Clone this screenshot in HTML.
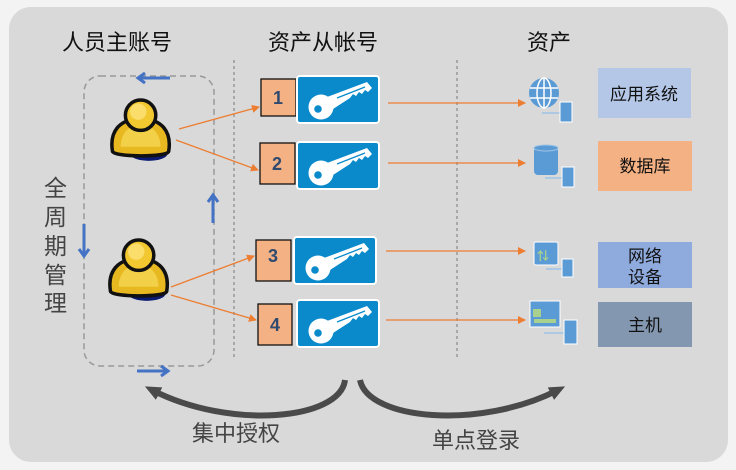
<!DOCTYPE html>
<html><head><meta charset="utf-8"><style>
html,body{margin:0;padding:0;background:#f3f3f3;}
svg{display:block;font-family:"Liberation Sans","Noto Sans CJK SC",sans-serif;}
</style></head><body>
<svg width="736" height="470" viewBox="0 0 736 470" xmlns="http://www.w3.org/2000/svg">
<defs>
<g id="key">
<rect x="0" y="0" width="82" height="47" rx="3" fill="#0a8acb" stroke="#fff" stroke-width="2"/>
<circle cx="24" cy="31" r="12.5" fill="#fff"/>
<circle cx="21" cy="33" r="3.8" fill="#0a8acb"/>
<path d="M30 21 L70 6 L75 12 L71 16 L68 14 L65 18 L62 16 L59 20 L56 18 L53 22 L36 33 Z" fill="#fff"/>
<path d="M40 22 L68 11" stroke="#0a8acb" stroke-width="1.3"/>
</g>
<g id="person">
<ellipse cx="34" cy="46" rx="16" ry="6" fill="#0a1a70"/>
<path d="M3 44 C0 26 10 16 27 16 C44 16 54 26 51 44 C50 49 5 49 3 44 Z" fill="#e8b820" stroke="#111" stroke-width="3"/>
<path d="M10 40 C10 28 18 21 27 21 C36 21 44 28 44 40" fill="#f7dc5a" opacity="0.7"/>
<circle cx="27" cy="13" r="13" fill="#f2c830" stroke="#111" stroke-width="3"/>
<circle cx="25" cy="10" r="7" fill="#fbe27a" opacity="0.8"/>
</g>
<marker id="oa" markerWidth="8" markerHeight="8" refX="7" refY="4" orient="auto" markerUnits="userSpaceOnUse"><path d="M0 0 L8 4 L0 8 Z" fill="#ed7d31"/></marker>
<marker id="ga" markerWidth="16" markerHeight="14" refX="8" refY="7" orient="auto" markerUnits="userSpaceOnUse"><path d="M0 0 L16 7 L0 14 Z" fill="#4a4a4a"/></marker>
</defs>
<rect x="9" y="7" width="719" height="455" rx="22" fill="#d9d9d9"/>
<g font-size="22" fill="#111">
<text x="62" y="50">人员主账号</text>
<text x="268" y="50">资产从帐号</text>
<text x="527" y="50">资产</text>
</g>
<g font-size="23" fill="#444">
<text x="44" y="196">全</text><text x="44" y="225">周</text><text x="44" y="254">期</text><text x="44" y="283">管</text><text x="44" y="311">理</text>
</g>
<line x1="234" y1="60" x2="234" y2="358" stroke="#777" stroke-dasharray="3,3"/>
<line x1="457" y1="60" x2="457" y2="358" stroke="#777" stroke-dasharray="3,3"/>
<rect x="84" y="76" width="130" height="290" rx="16" fill="none" stroke="#999" stroke-width="1.5" stroke-dasharray="6,4"/>
<g stroke="#4472c4" stroke-width="3" fill="none">
<path d="M170 78 H138 M145 73 L138 78 L145 83"/>
<path d="M84 224 V256 M79 249 L84 256 L89 249"/>
<path d="M213 223 V195 M208 202 L213 195 L218 202"/>
<path d="M137 371 H168 M161 366 L168 371 L161 376"/>
</g>
<use href="#person" transform="translate(109,100) scale(1.17)"/>
<use href="#person" transform="translate(107,240) scale(1.17)"/>
<g stroke="#ed7d31" stroke-width="1.3" fill="none">
<line x1="179" y1="129" x2="259" y2="107" marker-end="url(#oa)"/>
<line x1="176" y1="140" x2="258" y2="170" marker-end="url(#oa)"/>
<line x1="171" y1="287" x2="254" y2="256" marker-end="url(#oa)"/>
<line x1="171" y1="295" x2="256" y2="320" marker-end="url(#oa)"/>
<line x1="388" y1="103" x2="525" y2="103" marker-end="url(#oa)"/>
<line x1="388" y1="163" x2="525" y2="163" marker-end="url(#oa)"/>
<line x1="386" y1="251" x2="525" y2="251" marker-end="url(#oa)"/>
<line x1="386" y1="320" x2="525" y2="320" marker-end="url(#oa)"/>
</g>
<g fill="#f4b183" stroke="#111" stroke-width="1.3">
<rect x="261" y="79" width="35" height="37"/>
<rect x="260" y="143" width="35" height="41"/>
<rect x="256" y="240" width="35" height="41"/>
<rect x="258" y="304" width="34" height="41"/>
</g>
<g font-size="18" font-weight="bold" fill="#2f4a6e" text-anchor="middle">
<text x="278" y="104">1</text><text x="277" y="170">2</text><text x="273" y="262">3</text><text x="275" y="331">4</text>
</g>
<use href="#key" x="297" y="76"/>
<use href="#key" x="297" y="142"/>
<use href="#key" x="294" y="237"/>
<use href="#key" x="297" y="300"/>
<g>
<circle cx="544" cy="93" r="15" fill="#5b9bd5"/>
<g stroke="#fff" stroke-width="1.5" fill="none"><ellipse cx="544" cy="93" rx="7" ry="15"/><line x1="544" y1="78" x2="544" y2="108"/><line x1="530" y1="88" x2="558" y2="88"/><line x1="530" y1="98" x2="558" y2="98"/></g>
<line x1="542" y1="113" x2="560" y2="113" stroke="#9dc3e6" stroke-width="1.5"/>
<rect x="560" y="102" width="12" height="20" fill="#5b9bd5" stroke="#fff"/>
<rect x="534" y="147" width="24" height="28" rx="4" fill="#5b9bd5"/><ellipse cx="546" cy="148" rx="12" ry="3" fill="#5b9bd5" stroke="#9dc3e6"/>
<line x1="545" y1="178" x2="562" y2="178" stroke="#9dc3e6" stroke-width="1.5"/>
<rect x="562" y="167" width="12" height="20" fill="#5b9bd5" stroke="#fff"/>
<rect x="534" y="242" width="24" height="23" rx="2" fill="#5b9bd5" stroke="#fff"/>
<text x="537" y="260" font-size="12" fill="#a9d18e" font-weight="bold">⇅</text>
<line x1="546" y1="269" x2="562" y2="269" stroke="#9dc3e6" stroke-width="1.5"/>
<rect x="562" y="259" width="11" height="18" fill="#5b9bd5" stroke="#fff"/>
<rect x="530" y="301" width="30" height="26" fill="#5b9bd5" stroke="#fff"/>
<rect x="533" y="309" width="8" height="8" fill="#a9d18e"/><rect x="534" y="319" width="22" height="4" fill="#a9d18e"/>
<line x1="544" y1="333" x2="564" y2="333" stroke="#9dc3e6" stroke-width="1.5"/>
<rect x="564" y="320" width="13" height="24" fill="#5b9bd5" stroke="#fff"/>
</g>
<rect x="598" y="68" width="93" height="50" fill="#b4c7e7"/>
<rect x="598" y="141" width="94" height="50" fill="#f4b183"/>
<rect x="598" y="242" width="94" height="46" fill="#8faadc"/>
<rect x="598" y="302" width="94" height="45" fill="#8497b0"/>
<g font-size="17" fill="#111" text-anchor="middle">
<text x="644" y="100">应用系统</text>
<text x="645" y="172">数据库</text>
<text x="645" y="262">网络</text><text x="645" y="283">设备</text>
<text x="645" y="331">主机</text>
</g>
<path d="M345 380 C340 420 230 430 152 390" fill="none" stroke="#4a4a4a" stroke-width="6" marker-end="url(#ga)"/>
<path d="M360 380 C368 420 480 430 558 390" fill="none" stroke="#4a4a4a" stroke-width="6" marker-end="url(#ga)"/>
<g font-size="22" fill="#444">
<text x="192" y="441">集中授权</text>
<text x="432" y="448">单点登录</text>
</g>
</svg>
</body></html>
